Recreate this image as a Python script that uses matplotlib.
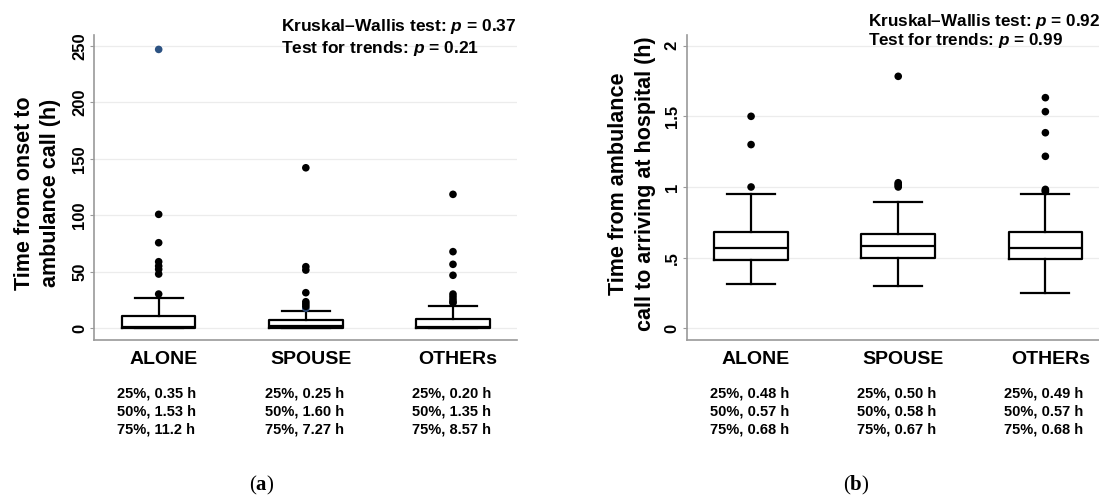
import matplotlib
matplotlib.use("Agg")
import matplotlib.pyplot as plt
import matplotlib.transforms as mtransforms

plt.rcParams['font.family'] = ['Liberation Sans', 'DejaVu Sans']
plt.rcParams['mathtext.fontset'] = 'custom'
plt.rcParams['mathtext.it'] = 'Liberation Sans:bold:italic'
plt.rcParams['mathtext.rm'] = 'Liberation Sans:bold'
plt.rcParams['mathtext.bf'] = 'Liberation Serif:bold'

# ---------------- data ----------------
categories = ["ALONE", "SPOUSE", "OTHERs"]

# Panel (a): time from onset to ambulance call (h)
a_q1 = [0.35, 0.25, 0.20]
a_med = [1.53, 1.60, 1.35]
a_q3 = [11.2, 7.27, 8.57]
a_whislo = [0.0, 0.0, 0.0]
a_whishi = [26.5, 15.0, 20.0]
a_fliers = [
    [30.3, 48.0, 52.2, 55.1, 58.9, 75.7, 100.8, 246.7],
    [17.7, 19.5, 21.5, 23.5, 31.5, 51.5, 54.5, 142.0],
    [22.5, 23.5, 25.6, 28.0, 30.3, 46.9, 56.6, 67.8, 118.5],
]
a_flier_colors = [
    ["k", "k", "k", "k", "k", "k", "k", "#2c5282"],
    ["#2c4a78", "k", "k", "k", "k", "k", "k", "k"],
    ["k", "k", "k", "k", "k", "k", "k", "k", "k"],
]
a_yticks = [0, 50, 100, 150, 200, 250]
a_yticklabels = ["0", "50", "100", "150", "200", "250"]
a_pct_text = [
    ["25%, 0.35 h", "50%, 1.53 h", "75%, 11.2 h"],
    ["25%, 0.25 h", "50%, 1.60 h", "75%, 7.27 h"],
    ["25%, 0.20 h", "50%, 1.35 h", "75%, 8.57 h"],
]
a_stats = ["Kruskal\u2013Wallis test: $p$ = 0.37", "Test for trends: $p$ = 0.21"]
a_ylabel = "Time from onset to\nambulance call (h)"

# Panel (b): time from ambulance call to arriving at hospital (h)
b_q1 = [0.48, 0.50, 0.49]
b_med = [0.57, 0.58, 0.57]
b_q3 = [0.68, 0.67, 0.68]
b_whislo = [0.313, 0.297, 0.250]
b_whishi = [0.95, 0.896, 0.95]
b_fliers = [
    [1.00, 1.30, 1.50],
    [1.00, 1.01, 1.02, 1.03, 1.783],
    [0.967, 0.975, 0.983, 1.217, 1.384, 1.533, 1.632],
]
b_yticks = [0, 0.5, 1, 1.5, 2]
b_yticklabels = ["0", ".5", "1", "1.5", "2"]
b_pct_text = [
    ["25%, 0.48 h", "50%, 0.57 h", "75%, 0.68 h"],
    ["25%, 0.50 h", "50%, 0.58 h", "75%, 0.67 h"],
    ["25%, 0.49 h", "50%, 0.57 h", "75%, 0.68 h"],
]
b_stats = ["Kruskal\u2013Wallis test: $p$ = 0.92", "Test for trends: $p$ = 0.99"]
b_ylabel = "Time from ambulance\ncall to arriving at hospital (h)"

# ---------------- figure ----------------
W, H = 1099, 497
fig = plt.figure(figsize=(W / 100, H / 100), dpi=100)

def px_axes(left, right, top, bottom):
    return fig.add_axes([left / W, (H - bottom) / H, (right - left) / W, (bottom - top) / H])

ax_a = px_axes(94.3, 516.7, 34.5, 340)
ax_b = px_axes(686.7, 1109.1, 34.5, 340)

positions = [1, 2, 3]
spine_col = "#9a9a9a"

def draw_panel(ax, q1, med, q3, wlo, whi, fliers, fcolors, yticks, yticklabels, ylim):
    stats = []
    for i in range(3):
        stats.append(dict(med=med[i], q1=q1[i], q3=q3[i], whislo=wlo[i], whishi=whi[i], fliers=[]))
    lp = dict(color="black", linewidth=1.6)
    ax.bxp(stats, positions=positions, widths=0.5, capwidths=0.325, showfliers=False,
           boxprops=lp, whiskerprops=lp, capprops=lp, medianprops=lp, zorder=3)
    for i in range(3):
        cols = fcolors[i] if fcolors is not None else ["k"] * len(fliers[i])
        ax.scatter([positions[i]] * len(fliers[i]), fliers[i], s=30, c=cols,
                   edgecolors="none", zorder=4)
    ax.set_xlim(0.5625, 3.433)
    ax.set_ylim(*ylim)
    ax.set_yticks(yticks)
    ax.set_yticklabels(yticklabels, rotation=90, va="center", fontweight="bold", fontsize=12)
    ax.grid(axis="y", color="#ececec", linewidth=0.9, zorder=0)
    ax.set_axisbelow(True)
    for s in ["top", "right"]:
        ax.spines[s].set_visible(False)
    for s in ["left", "bottom"]:
        ax.spines[s].set_color(spine_col)
        ax.spines[s].set_linewidth(1.2)
    ax.tick_params(axis="y", length=3, width=0.8, color=spine_col, pad=2)
    ax.set_xticks(positions)
    ax.set_xticklabels(categories, fontweight="bold", fontsize=14)
    ax.tick_params(axis="x", length=0, pad=8)
    off = mtransforms.ScaledTranslation(5 / 100, 0, fig.dpi_scale_trans)
    for lab in ax.get_xticklabels():
        lab.set_transform(lab.get_transform() + off)

draw_panel(ax_a, a_q1, a_med, a_q3, a_whislo, a_whishi, a_fliers, a_flier_colors,
           a_yticks, a_yticklabels, (-10.35, 259.9))
draw_panel(ax_b, b_q1, b_med, b_q3, b_whislo, b_whishi, b_fliers, None,
           b_yticks, b_yticklabels, (-0.0828, 2.079))

def ftext(x, y, s, **kw):
    fig.text(x / W, 1 - y / H, s, **kw)

# percentile texts below each group
for ax, pct in [(ax_a, a_pct_text), (ax_b, b_pct_text)]:
    tr = mtransforms.blended_transform_factory(ax.transData, fig.transFigure)
    for i in range(3):
        for j, line in enumerate(pct[i]):
            y = 393.3 + j * 18
            ax.text(positions[i] - 0.28, 1 - y / H, line, transform=tr, ha="left", va="center",
                    fontsize=10.5, fontweight="bold", clip_on=False)

# statistics texts
for j, s in enumerate(a_stats):
    ftext(280.7, 26.5 + j * 21.8, s, ha="left", va="center", fontsize=12.5, fontweight="bold")
for j, s in enumerate(b_stats):
    ftext(868, 21.5 + j * 19.5, s, ha="left", va="center", fontsize=12.3, fontweight="bold")

# y labels
ftext(37.5, 193, a_ylabel, rotation=90, ha="center", va="center", fontsize=15.5,
      fontweight="bold", multialignment="center", linespacing=1.32)
ftext(632, 184, b_ylabel, rotation=90, ha="center", va="center", fontsize=15.5,
      fontweight="bold", multialignment="center", linespacing=1.32)

# panel letters
ftext(262, 485, r"($\mathbf{a}$)", ha="center", va="center", fontsize=15, family="Liberation Serif")
ftext(856, 485, r"($\mathbf{b}$)", ha="center", va="center", fontsize=15, family="Liberation Serif")

fig.savefig("out.png", dpi=100)
